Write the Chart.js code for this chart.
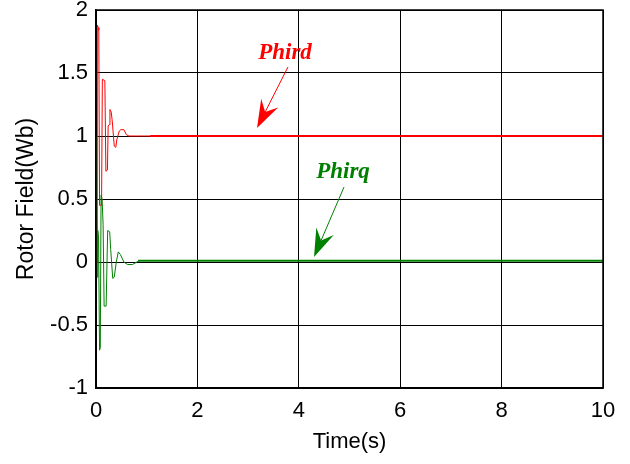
<!DOCTYPE html>
<html>
<head>
<meta charset="utf-8">
<script src="https://cdn.jsdelivr.net/npm/chart.js@4.4.1/dist/chart.umd.min.js"></script>
<style>
html,body{margin:0;padding:0;background:#fff;}
#wrap{width:630px;height:464px;}
</style>
</head>
<body>
<div id="wrap"><canvas id="c" width="630" height="464"></canvas></div>
<script>
// ---- data ----
const xTicks = [0, 2, 4, 6, 8, 10];
const yTicks = [-1, -0.5, 0, 0.5, 1, 1.5, 2];
const yTickLabels = ['-1', '-0.5', '0', '0.5', '1', '1.5', '2'];

// Phird transient (time s, flux Wb)
const phirdT = [0, 0.02, 0.025, 0.045, 0.055, 0.07, 0.11, 0.125, 0.175, 0.195, 0.225, 0.24, 0.26, 0.275, 0.3, 0.32, 0.36, 0.39, 0.41, 0.46, 0.49, 0.55, 0.6, 0.65, 0.8, 1.1];
const phirdV = [0, 0, 1.88, 1.86, 1.84, 0.45, 0.45, 1.45, 1.44, 0.72, 0.73, 1.08, 1.09, 1.21, 1.19, 1.12, 0.92, 0.91, 0.97, 1.04, 1.05, 1.05, 1.01, 1.0, 1.0, 1.0];
// Phird steady state
const phirdSteadyT = [1.07, 10];
const phirdSteadyV = [1.0, 1.0];

// Phirq transient
const phirqT = [0, 0.004, 0.012, 0.02, 0.035, 0.05, 0.07, 0.085, 0.1, 0.12, 0.14, 0.16, 0.2, 0.23, 0.27, 0.29, 0.33, 0.36, 0.4, 0.44, 0.48, 0.55, 0.62, 0.72, 0.85];
const phirqV = [0, 1.0, 0.62, -0.12, 0.25, 0.2, -0.7, -0.68, 0.53, 0.5, 0.3, -0.35, -0.35, 0.25, 0.24, 0.1, -0.13, -0.12, 0.0, 0.08, 0.06, 0.0, -0.02, -0.02, 0.01];
// Phirq steady state
const phirqSteadyT = [0.83, 10];
const phirqSteadyV = [0.01, 0.01];

// annotation anchors (data coordinates)
const labelNames = ['Phird', 'Phirq'];
const labelAt = [[3.728, 1.609], [4.872, 0.664]];
const arrowTail = [[3.787, 1.548], [4.892, 0.595]];
const arrowTip = [[3.176, 1.063], [4.300, 0.040]];
const labelColors = ['#ff0000', '#008000'];

function pts(ts, vs) { return ts.map((t, i) => ({x: t, y: vs[i]})); }

const annotPlugin = {
  id: 'annot',
  afterDatasetsDraw(chart) {
    const {ctx, scales} = chart;
    const xs = scales.x, ys = scales.y;
    ctx.save();
    for (let i = 0; i < labelNames.length; i++) {
      const col = labelColors[i];
      ctx.fillStyle = col;
      ctx.font = 'italic bold 23px "Liberation Serif", "Times New Roman", serif';
      ctx.textAlign = 'center';
      ctx.textBaseline = 'alphabetic';
      ctx.fillText(labelNames[i], xs.getPixelForValue(labelAt[i][0]), ys.getPixelForValue(labelAt[i][1]));
      const x0 = xs.getPixelForValue(arrowTail[i][0]), y0 = ys.getPixelForValue(arrowTail[i][1]);
      const x1 = xs.getPixelForValue(arrowTip[i][0]), y1 = ys.getPixelForValue(arrowTip[i][1]);
      const dx = x1 - x0, dy = y1 - y0, L = Math.hypot(dx, dy);
      const ux = dx / L, uy = dy / L, nx = -uy, ny = ux;
      const hl = 28, hw = 9.5, notch = 18;
      ctx.strokeStyle = col;
      ctx.lineWidth = 1;
      ctx.beginPath();
      ctx.moveTo(x0, y0);
      ctx.lineTo(x1 - ux * notch, y1 - uy * notch);
      ctx.stroke();
      ctx.beginPath();
      ctx.moveTo(x1, y1);
      ctx.lineTo(x1 - ux * hl + nx * hw, y1 - uy * hl + ny * hw);
      ctx.lineTo(x1 - ux * notch, y1 - uy * notch);
      ctx.lineTo(x1 - ux * hl - nx * hw, y1 - uy * hl - ny * hw);
      ctx.closePath();
      ctx.fill();
    }
    ctx.restore();
  }
};

const tickFont = {family: '"Liberation Sans", Arial, sans-serif', size: 22};

new Chart(document.getElementById('c'), {
  type: 'line',
  data: {
    datasets: [
      {data: pts(phirdT, phirdV), borderColor: '#ff0000', borderWidth: 1, pointRadius: 0, tension: 0, fill: false},
      {data: pts(phirdSteadyT, phirdSteadyV), borderColor: '#ff0000', borderWidth: 2.2, pointRadius: 0, tension: 0, fill: false},
      {data: pts(phirqT, phirqV), borderColor: '#008000', borderWidth: 1, pointRadius: 0, tension: 0, fill: false},
      {data: pts(phirqSteadyT, phirqSteadyV), borderColor: '#008000', borderWidth: 2.2, pointRadius: 0, tension: 0, fill: false}
    ]
  },
  options: {
    responsive: false,
    animation: false,
    devicePixelRatio: 1,
    layout: {padding: {left: 13, top: 10, right: 27, bottom: 9}},
    plugins: {legend: {display: false}, tooltip: {enabled: false}},
    scales: {
      x: {
        type: 'linear', min: 0, max: 10,
        afterBuildTicks(s) { s.ticks = xTicks.map(v => ({value: v})); },
        afterFit(s) { s.height = 67; s.paddingLeft = 0; s.paddingRight = 0; },
        ticks: {font: tickFont, color: '#000', padding: 10, maxRotation: 0, callback: v => String(v)},
        grid: {color: '#000', lineWidth: 1, drawTicks: false},
        border: {display: true, color: '#000', width: 1.5},
        title: {display: true, text: 'Time(s)', color: '#000', font: tickFont, padding: 0}
      },
      y: {
        type: 'linear', min: -1, max: 2,
        afterBuildTicks(s) { s.ticks = yTicks.map(v => ({value: v})); },
        afterFit(s) { s.width = 83; s.paddingTop = 0; s.paddingBottom = 0; },
        ticks: {font: tickFont, color: '#000', padding: 8, callback: v => yTickLabels[yTicks.indexOf(v)]},
        grid: {color: '#000', lineWidth: 1, drawTicks: false},
        border: {display: true, color: '#000', width: 1.5},
        title: {display: true, text: 'Rotor Field(Wb)', color: '#000', font: {family: tickFont.family, size: 23}, padding: 0}
      }
    }
  },
  plugins: [annotPlugin, {
    id: 'frame',
    afterDraw(chart) {
      const {ctx, chartArea: a} = chart;
      ctx.save();
      ctx.strokeStyle = '#000';
      ctx.lineWidth = 1.5;
      ctx.strokeRect(a.left, a.top, a.right - a.left, a.bottom - a.top);
      ctx.restore();
    }
  }]
});
</script>
</body>
</html>
